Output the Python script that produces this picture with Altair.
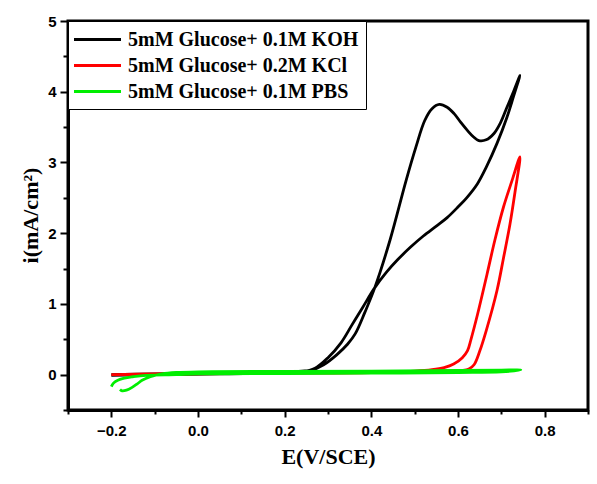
import altair as alt
import pandas as pd

series_names = ["5mM Glucose+ 0.1M KOH", "5mM Glucose+ 0.2M KCl", "5mM Glucose+ 0.1M PBS"]
series_colors = ["#000000", "#ff0000", "#00ee00"]

# KOH (black): forward then reverse scan
koh_E = [-0.2, -0.1, 0.0, 0.1, 0.2, 0.24, 0.26, 0.29, 0.32, 0.345, 0.363, 0.385, 0.408, 0.443, 0.48,
         0.503, 0.523, 0.54, 0.557, 0.575, 0.591, 0.606, 0.622, 0.636, 0.648, 0.665, 0.683, 0.698,
         0.713, 0.728, 0.743,
         0.728, 0.713, 0.69, 0.665, 0.645, 0.62, 0.6, 0.575, 0.55, 0.52, 0.49, 0.46, 0.435, 0.408,
         0.38, 0.355, 0.33, 0.30, 0.27, 0.24, 0.15, 0.05, -0.1, -0.2]
koh_I = [0.0, 0.01, 0.02, 0.03, 0.04, 0.05, 0.06, 0.14, 0.28, 0.43, 0.58, 0.88, 1.23, 1.9, 2.74,
         3.22, 3.59, 3.76, 3.82, 3.78, 3.69, 3.57, 3.45, 3.36, 3.31, 3.32, 3.41, 3.56,
         3.78, 4.0, 4.23,
         3.93, 3.64, 3.27, 2.93, 2.7, 2.5, 2.37, 2.22, 2.1, 1.96, 1.8, 1.62, 1.45, 1.23,
         0.95, 0.7, 0.45, 0.24, 0.09, 0.04, 0.02, 0.01, 0.0, -0.01]

# KCl (red)
kcl_E = [-0.2, -0.1, 0.0, 0.2, 0.4, 0.55, 0.61, 0.625, 0.637, 0.65, 0.665, 0.69, 0.705, 0.72, 0.732, 0.743,
         0.725, 0.705, 0.685, 0.667, 0.645, 0.63, 0.622, 0.61, 0.59, 0.568, 0.54, 0.5, 0.4, 0.2, 0.0,
         -0.15, -0.2]
kcl_I = [0.0, 0.01, 0.02, 0.03, 0.04, 0.05, 0.06, 0.08, 0.14, 0.33, 0.62, 1.19, 1.65, 2.13, 2.6, 3.08,
         2.75, 2.37, 1.9, 1.42, 0.85, 0.5, 0.34, 0.24, 0.15, 0.1, 0.07, 0.05, 0.03, 0.02, 0.01,
         0.0, 0.0]

# PBS (green)
pbs_E = [-0.18, -0.175, -0.165, -0.152, -0.14, -0.129, -0.11, -0.083, -0.05, 0.0, 0.2, 0.4, 0.6, 0.7,
         0.745, 0.7, 0.6, 0.4, 0.2, 0.0, -0.05, -0.12, -0.15, -0.17, -0.185, -0.195, -0.2]
pbs_I = [-0.21, -0.23, -0.22, -0.18, -0.13, -0.08, -0.03, 0.01, 0.03, 0.04, 0.045, 0.05, 0.06, 0.065,
         0.065, 0.04, 0.03, 0.02, 0.015, 0.01, 0.0, -0.01, -0.03, -0.05, -0.08, -0.12, -0.17]

x_tick_values = [-0.3, -0.2, -0.1, 0.0, 0.1, 0.2, 0.3, 0.4, 0.5, 0.6, 0.7, 0.8, 0.9]
y_tick_values = [-0.5, 0, 0.5, 1, 1.5, 2, 2.5, 3, 3.5, 4, 4.5, 5]


def make_df(E, I, name):
    return pd.DataFrame({"E": E, "I": I, "k": list(range(len(E))), "s": [name] * len(E)})


frames = [make_df(koh_E, koh_I, series_names[0]),
          make_df(kcl_E, kcl_I, series_names[1]),
          make_df(pbs_E, pbs_I, series_names[2])]

x_major = "abs(datum.value*5-round(datum.value*5))<0.001"
y_major = "abs(datum.value-round(datum.value))<0.001"

x_axis = alt.Axis(
    values=x_tick_values,
    labelExpr=f"{x_major} ? format(datum.value, '.1f') : ''",
    tickSize={"condition": {"test": x_major, "value": 7}, "value": 4},
    title="E(V/SCE)",
    titleX=260, titleY=46, titleBaseline="middle", titleAlign="center",
    labelPadding=6, grid=False,
)
y_axis = alt.Axis(
    values=y_tick_values,
    labelExpr=f"{y_major} ? format(datum.value, 'd') : ''",
    tickSize={"condition": {"test": y_major, "value": 8}, "value": 5},
    title="i(mA/cm²)",
    titleX=-38, titleY=194, titleBaseline="middle", titleAlign="center", titleAngle=270,
    labelPadding=4, grid=False,
)

color = alt.Color(
    "s:N",
    scale=alt.Scale(domain=series_names, range=series_colors),
    legend=alt.Legend(orient="none", legendX=0, legendY=0, title=None),
)

layers = []
for df in frames:
    layers.append(
        alt.Chart(df).mark_line(strokeWidth=2.8, interpolate="catmull-rom").encode(
            x=alt.X("E:Q", scale=alt.Scale(domain=[-0.3, 0.9], nice=False, zero=False), axis=x_axis),
            y=alt.Y("I:Q", scale=alt.Scale(domain=[-0.5, 5], nice=False, zero=False), axis=y_axis),
            order="k:Q",
            color=color,
        )
    )

chart = alt.layer(*layers).properties(
    width=520, height=389,
    autosize=alt.AutoSizeParams(type="none"),
    padding={"left": 68, "top": 21, "right": 9, "bottom": 74},
    background="white",
).configure_view(
    stroke="black", strokeWidth=3
).configure_axis(
    domainColor="black", domainWidth=3, tickColor="black", tickWidth=2,
    labelFont="Liberation Sans", labelFontWeight="bold", labelFontSize=15, labelColor="black",
    titleFont="Liberation Serif", titleFontWeight="bold", titleFontSize=22, titleColor="black",
).configure_legend(
    strokeColor="black", fillColor="white", padding=7,
    symbolType="M-2.35,0H2.35", symbolSize=400, symbolStrokeWidth=3, symbolOffset=11,
    labelFont="Liberation Serif", labelFontWeight="bold", labelFontSize=20, labelColor="black",
    labelOffset=19, rowPadding=4, labelLimit=400,
)

chart.save("out.html", embed_options={"renderer": "svg", "actions": False})
